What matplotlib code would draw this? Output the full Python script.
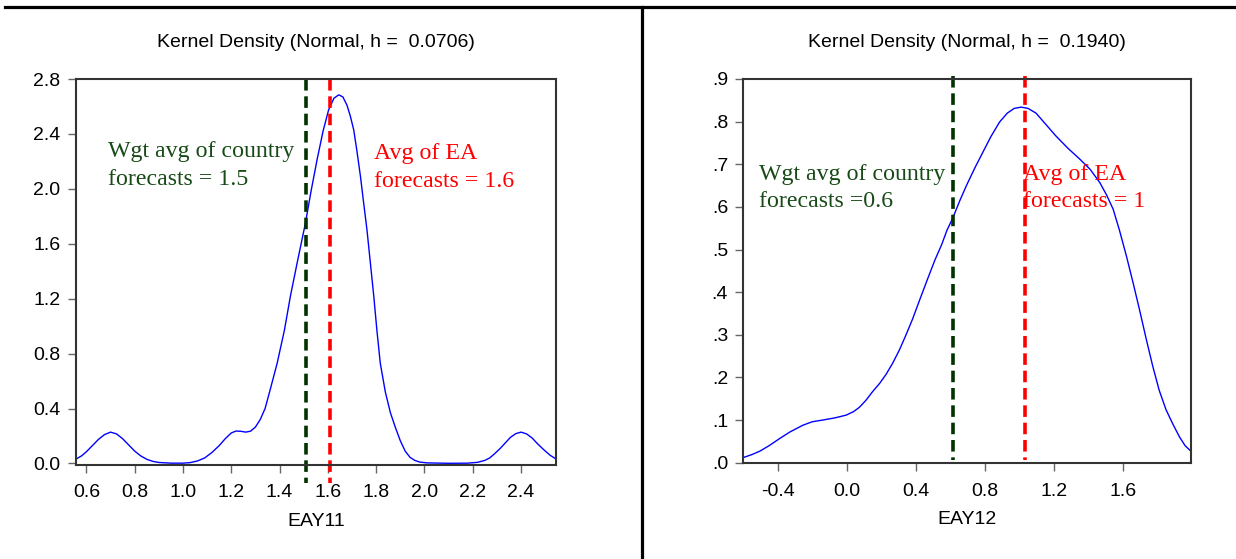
import numpy as np
import matplotlib
matplotlib.use("Agg")
import matplotlib.pyplot as plt
from matplotlib.lines import Line2D

# --- data ---
eay11_x = [0.555, 0.58, 0.60, 0.625, 0.65, 0.675, 0.70, 0.725, 0.75, 0.775, 0.80, 0.825,
           0.85, 0.875, 0.90, 0.95, 1.00, 1.03, 1.06, 1.09, 1.12, 1.15, 1.175, 1.20, 1.22,
           1.24, 1.26, 1.28, 1.30, 1.32, 1.34, 1.36, 1.39, 1.42, 1.445, 1.475, 1.507, 1.53,
           1.555, 1.58, 1.603, 1.625, 1.645, 1.662, 1.679, 1.693, 1.707, 1.72, 1.735, 1.748,
           1.762, 1.776, 1.79, 1.803, 1.817, 1.838, 1.859, 1.88, 1.90, 1.92, 1.94, 1.96,
           1.98, 2.01, 2.10, 2.18, 2.22, 2.25, 2.27, 2.29, 2.314, 2.335, 2.356, 2.378, 2.40,
           2.423, 2.446, 2.47, 2.494, 2.52, 2.545]
eay11_d = [0.03, 0.055, 0.085, 0.13, 0.175, 0.21, 0.228, 0.215, 0.18, 0.135, 0.09, 0.055,
           0.03, 0.015, 0.007, 0.002, 0.002, 0.006, 0.018, 0.04, 0.08, 0.13, 0.18, 0.222, 0.236,
           0.234, 0.228, 0.235, 0.265, 0.32, 0.40, 0.53, 0.73, 0.97, 1.22, 1.48, 1.75, 1.98,
           2.21, 2.42, 2.575, 2.66, 2.685, 2.67, 2.61, 2.53, 2.43, 2.28, 2.09, 1.90,
           1.70, 1.46, 1.22, 0.97, 0.73, 0.52, 0.369, 0.26, 0.165, 0.09, 0.045, 0.022,
           0.01, 0.004, 0.001, 0.002, 0.008, 0.022, 0.04, 0.07, 0.11, 0.15, 0.19, 0.217, 0.228,
           0.215, 0.185, 0.14, 0.10, 0.06, 0.032]

eay12_x = [-0.6, -0.55, -0.504, -0.45, -0.388, -0.33, -0.254, -0.2, -0.139, -0.07, -0.004,
           0.04, 0.073, 0.11, 0.15, 0.19, 0.227, 0.265, 0.304, 0.34, 0.381, 0.425, 0.468,
           0.51, 0.55, 0.58, 0.615, 0.655, 0.693, 0.74, 0.788, 0.835, 0.885, 0.93, 0.97,
           1.01, 1.05, 1.096, 1.15, 1.21, 1.28, 1.35, 1.41, 1.466, 1.505, 1.543, 1.58, 1.62,
           1.66, 1.696, 1.735, 1.773, 1.81, 1.85, 1.89, 1.927, 1.96, 1.996]
eay12_d = [0.012, 0.019, 0.027, 0.04, 0.057, 0.072, 0.088, 0.096, 0.100, 0.105, 0.1115,
           0.12, 0.13, 0.146, 0.167, 0.186, 0.207, 0.233, 0.264, 0.297, 0.337, 0.385, 0.431,
           0.475, 0.512, 0.545, 0.575, 0.615, 0.65, 0.69, 0.728, 0.765, 0.799, 0.82, 0.831,
           0.834, 0.831, 0.82, 0.795, 0.767, 0.738, 0.712, 0.688, 0.657, 0.628, 0.595, 0.545, 0.485,
           0.42, 0.359, 0.29, 0.226, 0.17, 0.124, 0.09, 0.061, 0.04, 0.026]

# forecast averages (vertical markers)
wgt_avg = [1.51, 0.615]
ea_avg = [1.61, 1.035]

titles = ["Kernel Density (Normal, h =  0.0706)", "Kernel Density (Normal, h =  0.1940)"]
xlabels = ["EAY11", "EAY12"]
green_txt = ["Wgt avg of country\nforecasts = 1.5", "Wgt avg of country\nforecasts =0.6"]
red_txt = ["Avg of EA\nforecasts = 1.6", "Avg of EA\nforecasts = 1"]

x1_ticks = [0.6, 0.8, 1.0, 1.2, 1.4, 1.6, 1.8, 2.0, 2.2, 2.4]
y1_ticks = [0.0, 0.4, 0.8, 1.2, 1.6, 2.0, 2.4, 2.8]
x2_ticks = [-0.4, 0.0, 0.4, 0.8, 1.2, 1.6]
y2_ticks = [0.0, 0.1, 0.2, 0.3, 0.4, 0.5, 0.6, 0.7, 0.8, 0.9]
y2_labels = [".0", ".1", ".2", ".3", ".4", ".5", ".6", ".7", ".8", ".9"]

sans = ["Liberation Sans", "DejaVu Sans"]
serif = ["Liberation Serif", "DejaVu Serif"]
GREEN_LINE = "#003300"
GREEN_TXT = "#174a17"
RED = "#ff0000"
NOTE_FS = 17.2
NOTE_LS = 1.42

fig = plt.figure(figsize=(12.36, 5.59), dpi=100)

ax1 = fig.add_axes([0.0611, 0.169, 0.3888, 0.6896])
ax2 = fig.add_axes([0.6014, 0.1712, 0.3624, 0.6875])

def style(ax):
    for s in ax.spines.values():
        s.set_color("#333333")
        s.set_linewidth(1.5)
    ax.tick_params(direction="out", length=6, width=1, color="#666666",
                   labelsize=14, pad=5)
    for lab in ax.get_xticklabels() + ax.get_yticklabels():
        lab.set_family(sans)
    ax.tick_params(axis="x", pad=8)

# left panel
ax1.plot(eay11_x, eay11_d, color="#0000ff", lw=1.0)
ax1.set_xlim(0.555, 2.545)
ax1.set_ylim(-0.008, 2.8)
ax1.set_xticks(x1_ticks)
ax1.set_xticklabels([f"{v:.1f}" for v in x1_ticks])
ax1.set_yticks(y1_ticks)
ax1.set_yticklabels([f"{v:.1f}" for v in y1_ticks])
ax1.plot([wgt_avg[0]] * 2, [2.8, -0.145], color=GREEN_LINE, lw=2.6,
         dashes=(3.2, 1.6), clip_on=False)
ax1.plot([ea_avg[0]] * 2, [2.8, -0.145], color=RED, lw=2.6,
         dashes=(3.2, 1.6), clip_on=False)
# va="baseline" on multi-line text anchors the last line
ax1.text(0.69, 2.029, green_txt[0], color=GREEN_TXT, fontsize=NOTE_FS, family=serif,
         va="baseline", ha="left", linespacing=NOTE_LS)
ax1.text(1.79, 2.015, red_txt[0], color=RED, fontsize=NOTE_FS, family=serif,
         va="baseline", ha="left", linespacing=NOTE_LS)
style(ax1)

# right panel
ax2.plot(eay12_x, eay12_d, color="#0000ff", lw=1.0)
ax2.set_xlim(-0.6, 1.996)
ax2.set_ylim(-0.0015, 0.9)
ax2.set_xticks(x2_ticks)
ax2.set_xticklabels([f"{v:.1f}" for v in x2_ticks])
ax2.set_yticks(y2_ticks)
ax2.set_yticklabels(y2_labels)
ax2.plot([wgt_avg[1]] * 2, [0.907, 0.006], color=GREEN_LINE, lw=2.6,
         dashes=(3.2, 1.6), clip_on=False)
ax2.plot([ea_avg[1]] * 2, [0.907, 0.006], color=RED, lw=2.6,
         dashes=(3.2, 1.6), clip_on=False)
ax2.text(-0.508, 0.599, green_txt[1], color=GREEN_TXT, fontsize=NOTE_FS, family=serif,
         va="baseline", ha="left", linespacing=NOTE_LS)
ax2.text(1.019, 0.599, red_txt[1], color=RED, fontsize=NOTE_FS, family=serif,
         va="baseline", ha="left", linespacing=NOTE_LS)
style(ax2)

for ax, t, xl in zip([ax1, ax2], titles, xlabels):
    ax.text(0.5, 1.096, t, transform=ax.transAxes, ha="center", va="center",
            fontsize=14, family=sans)
    ax.text(0.5, -0.147, xl, transform=ax.transAxes, ha="center", va="center",
            fontsize=14, family=sans)

# frame lines of the original layout
fig.add_artist(Line2D([0.004, 1.0], [0.9866, 0.9866], color="black", lw=2.3,
                      transform=fig.transFigure))
fig.add_artist(Line2D([0.5194, 0.5194], [0.0, 0.9866], color="black", lw=2.3,
                      transform=fig.transFigure))

fig.savefig("out.png", dpi=100, facecolor="white")
